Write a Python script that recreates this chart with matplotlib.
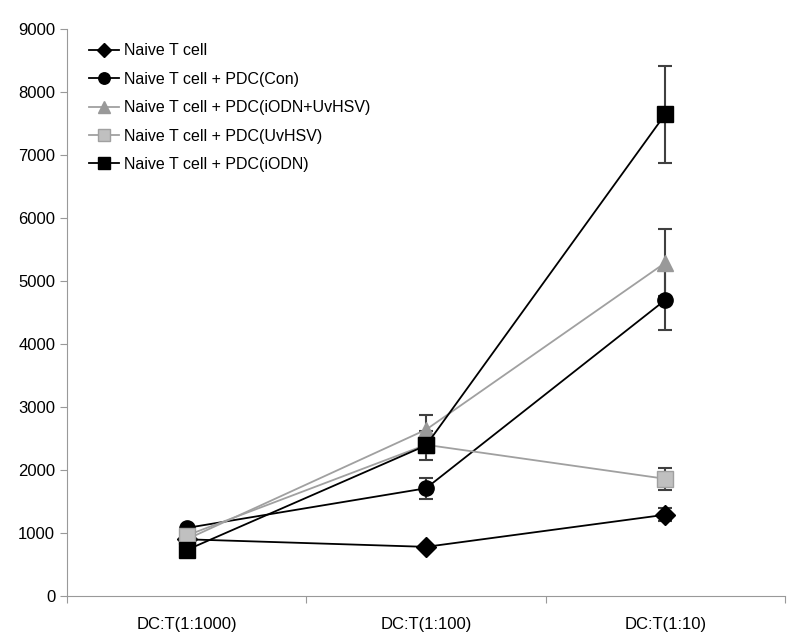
import matplotlib
matplotlib.use("Agg")
import matplotlib.pyplot as plt
import numpy as np

plt.rcParams['font.family'] = ['Liberation Sans', 'DejaVu Sans']

categories = ["DC:T(1:1000)", "DC:T(1:100)", "DC:T(1:10)"]
labels = ["Naive T cell",
          "Naive T cell + PDC(Con)",
          "Naive T cell + PDC(iODN+UvHSV)",
          "Naive T cell + PDC(UvHSV)",
          "Naive T cell + PDC(iODN)"]

naive = [900, 780, 1290]
naive_err = [0, 0, 100]
con = [1080, 1710, 4700]
con_err = [0, 170, 470]
iodn_uv = [900, 2640, 5290]
iodn_uv_err = [0, 230, 530]
uvhsv = [960, 2400, 1860]
uvhsv_err = [0, 0, 175]
iodn = [730, 2390, 7650]
iodn_err = [0, 230, 770]

series = [naive, con, iodn_uv, uvhsv, iodn]
errs = [naive_err, con_err, iodn_uv_err, uvhsv_err, iodn_err]
markers = ['D', 'o', '^', 's', 's']
sizes = [10, 11, 12, 11, 12]
face = ['black', 'black', '#999999', '#c0c0c0', 'black']
edge = ['black', 'black', '#999999', '#a0a0a0', 'black']
linec = ['black', 'black', '#a0a0a0', '#a0a0a0', 'black']

fig = plt.figure(figsize=(7.94, 6.43), dpi=100)
ax = fig.add_axes([0.0844, 0.0731, 0.9043, 0.8818])

x = np.arange(len(categories)) + 0.5
for vals, err, m, ms, fc, ec, lc, lab in zip(series, errs, markers, sizes, face, edge, linec, labels):
    ax.errorbar(x, vals, yerr=err, fmt='none', ecolor='#404040', elinewidth=1.5,
                capsize=5, capthick=1.5, zorder=2)
    ax.plot(x, vals, color=lc, lw=1.3, marker=m, markersize=ms,
            markerfacecolor=fc, markeredgecolor=ec, label=lab, zorder=3)

ax.set_xlim(0, 3)
ax.set_ylim(0, 9000)
ax.set_yticks(np.arange(0, 9001, 1000))
ax.set_xticks(np.arange(0, 4))
ax.set_xticklabels([])
ax.set_xticks(x, minor=True)
ax.set_xticklabels(categories, minor=True, fontsize=12)
ax.tick_params(axis='x', which='minor', length=0, pad=15)
ax.tick_params(axis='x', which='major', length=5, color='#999999')
ax.tick_params(axis='y', length=5, color='#999999', labelsize=12)

for s in ['top', 'right']:
    ax.spines[s].set_visible(False)
for s in ['left', 'bottom']:
    ax.spines[s].set_color('#999999')

ax.legend(loc='upper left', bbox_to_anchor=(0.01, 1.0), frameon=False, fontsize=11.5,
          handlelength=1.9, handletextpad=0.3, labelspacing=0.84, markerscale=0.75)

fig.savefig("out.png", dpi=100)
